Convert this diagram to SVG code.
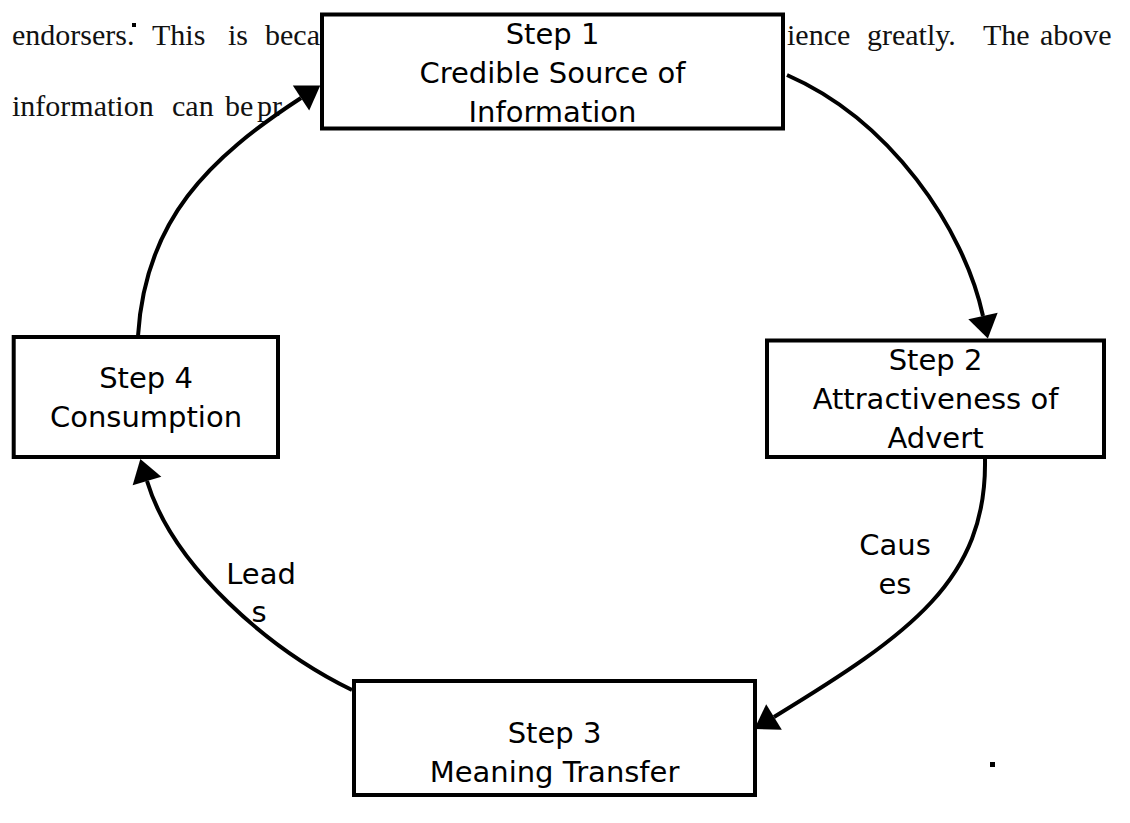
<svg xmlns="http://www.w3.org/2000/svg" width="1130" height="823" viewBox="0 0 1130 823">
<style>
.body{font-family:"Liberation Serif","Times New Roman",serif;font-size:30px;fill:#111}
.box{fill:#fff;stroke:#000;stroke-width:4}
.lbl{font-family:"DejaVu Sans",sans-serif;font-size:29px;fill:#000;text-anchor:middle}
.conn{fill:none;stroke:#000;stroke-width:4}
</style>
<defs>
<marker id="ah" markerUnits="userSpaceOnUse" markerWidth="26" markerHeight="32" refX="0" refY="15" orient="auto" overflow="visible">
<path d="M0,0 L23,15 L0,30 Z" fill="#000"/>
</marker>
</defs>
<rect width="1130" height="823" fill="#fff"/>
<g id="bodytext">
<text class="body" x="12" y="45">endorsers.</text>
<rect x="132" y="23" width="4" height="4" fill="#000"/>
<text class="body" x="152" y="45">This</text>
<text class="body" x="228" y="45">is</text>
<text class="body" x="265" y="45">beca</text>
<text class="body" x="787" y="45">ience</text>
<text class="body" x="867" y="45">greatly.</text>
<text class="body" x="983" y="45">The</text>
<text class="body" x="1040" y="45">above</text>
<text class="body" x="12" y="116">information</text>
<text class="body" x="172" y="116">can</text>
<text class="body" x="225" y="116">be</text>
<text class="body" x="257" y="116">pr</text>
<rect x="990" y="762" width="5" height="5" fill="#000"/>
</g>
<g id="connectors">
<path class="conn" d="M787,75 C890,120 964,228 983,316" marker-end="url(#ah)"/>
<path class="conn" d="M985,459 C987,580 910,634 774,717" marker-end="url(#ah)"/>
<path class="conn" d="M352,690 C270,650 173,567 147,481" marker-end="url(#ah)"/>
<path class="conn" d="M138,336 C145,220 209,158 301,98" marker-end="url(#ah)"/>
<text class="lbl" x="895" y="555">Caus</text>
<text class="lbl" x="895" y="594">es</text>
<text class="lbl" x="261" y="584">Lead</text>
<text class="lbl" x="259" y="622">s</text>
</g>
<g id="step1">
<rect class="box" x="322" y="14.5" width="461" height="114"/>
<text class="lbl" x="552.5" y="44">Step 1</text>
<text class="lbl" x="552.5" y="83">Credible Source of</text>
<text class="lbl" x="552.5" y="122">Information</text>
</g>
<g id="step2">
<rect class="box" x="767" y="340.5" width="337" height="116.5"/>
<text class="lbl" x="935.5" y="370">Step 2</text>
<text class="lbl" x="935.5" y="409">Attractiveness of</text>
<text class="lbl" x="935.5" y="448">Advert</text>
</g>
<g id="step3">
<rect class="box" x="354" y="681" width="401" height="114"/>
<text class="lbl" x="554.5" y="743">Step 3</text>
<text class="lbl" x="554.5" y="782">Meaning Transfer</text>
</g>
<g id="step4">
<rect class="box" x="13.7" y="337" width="264.3" height="120"/>
<text class="lbl" x="146" y="388">Step 4</text>
<text class="lbl" x="146" y="427">Consumption</text>
</g>
</svg>
